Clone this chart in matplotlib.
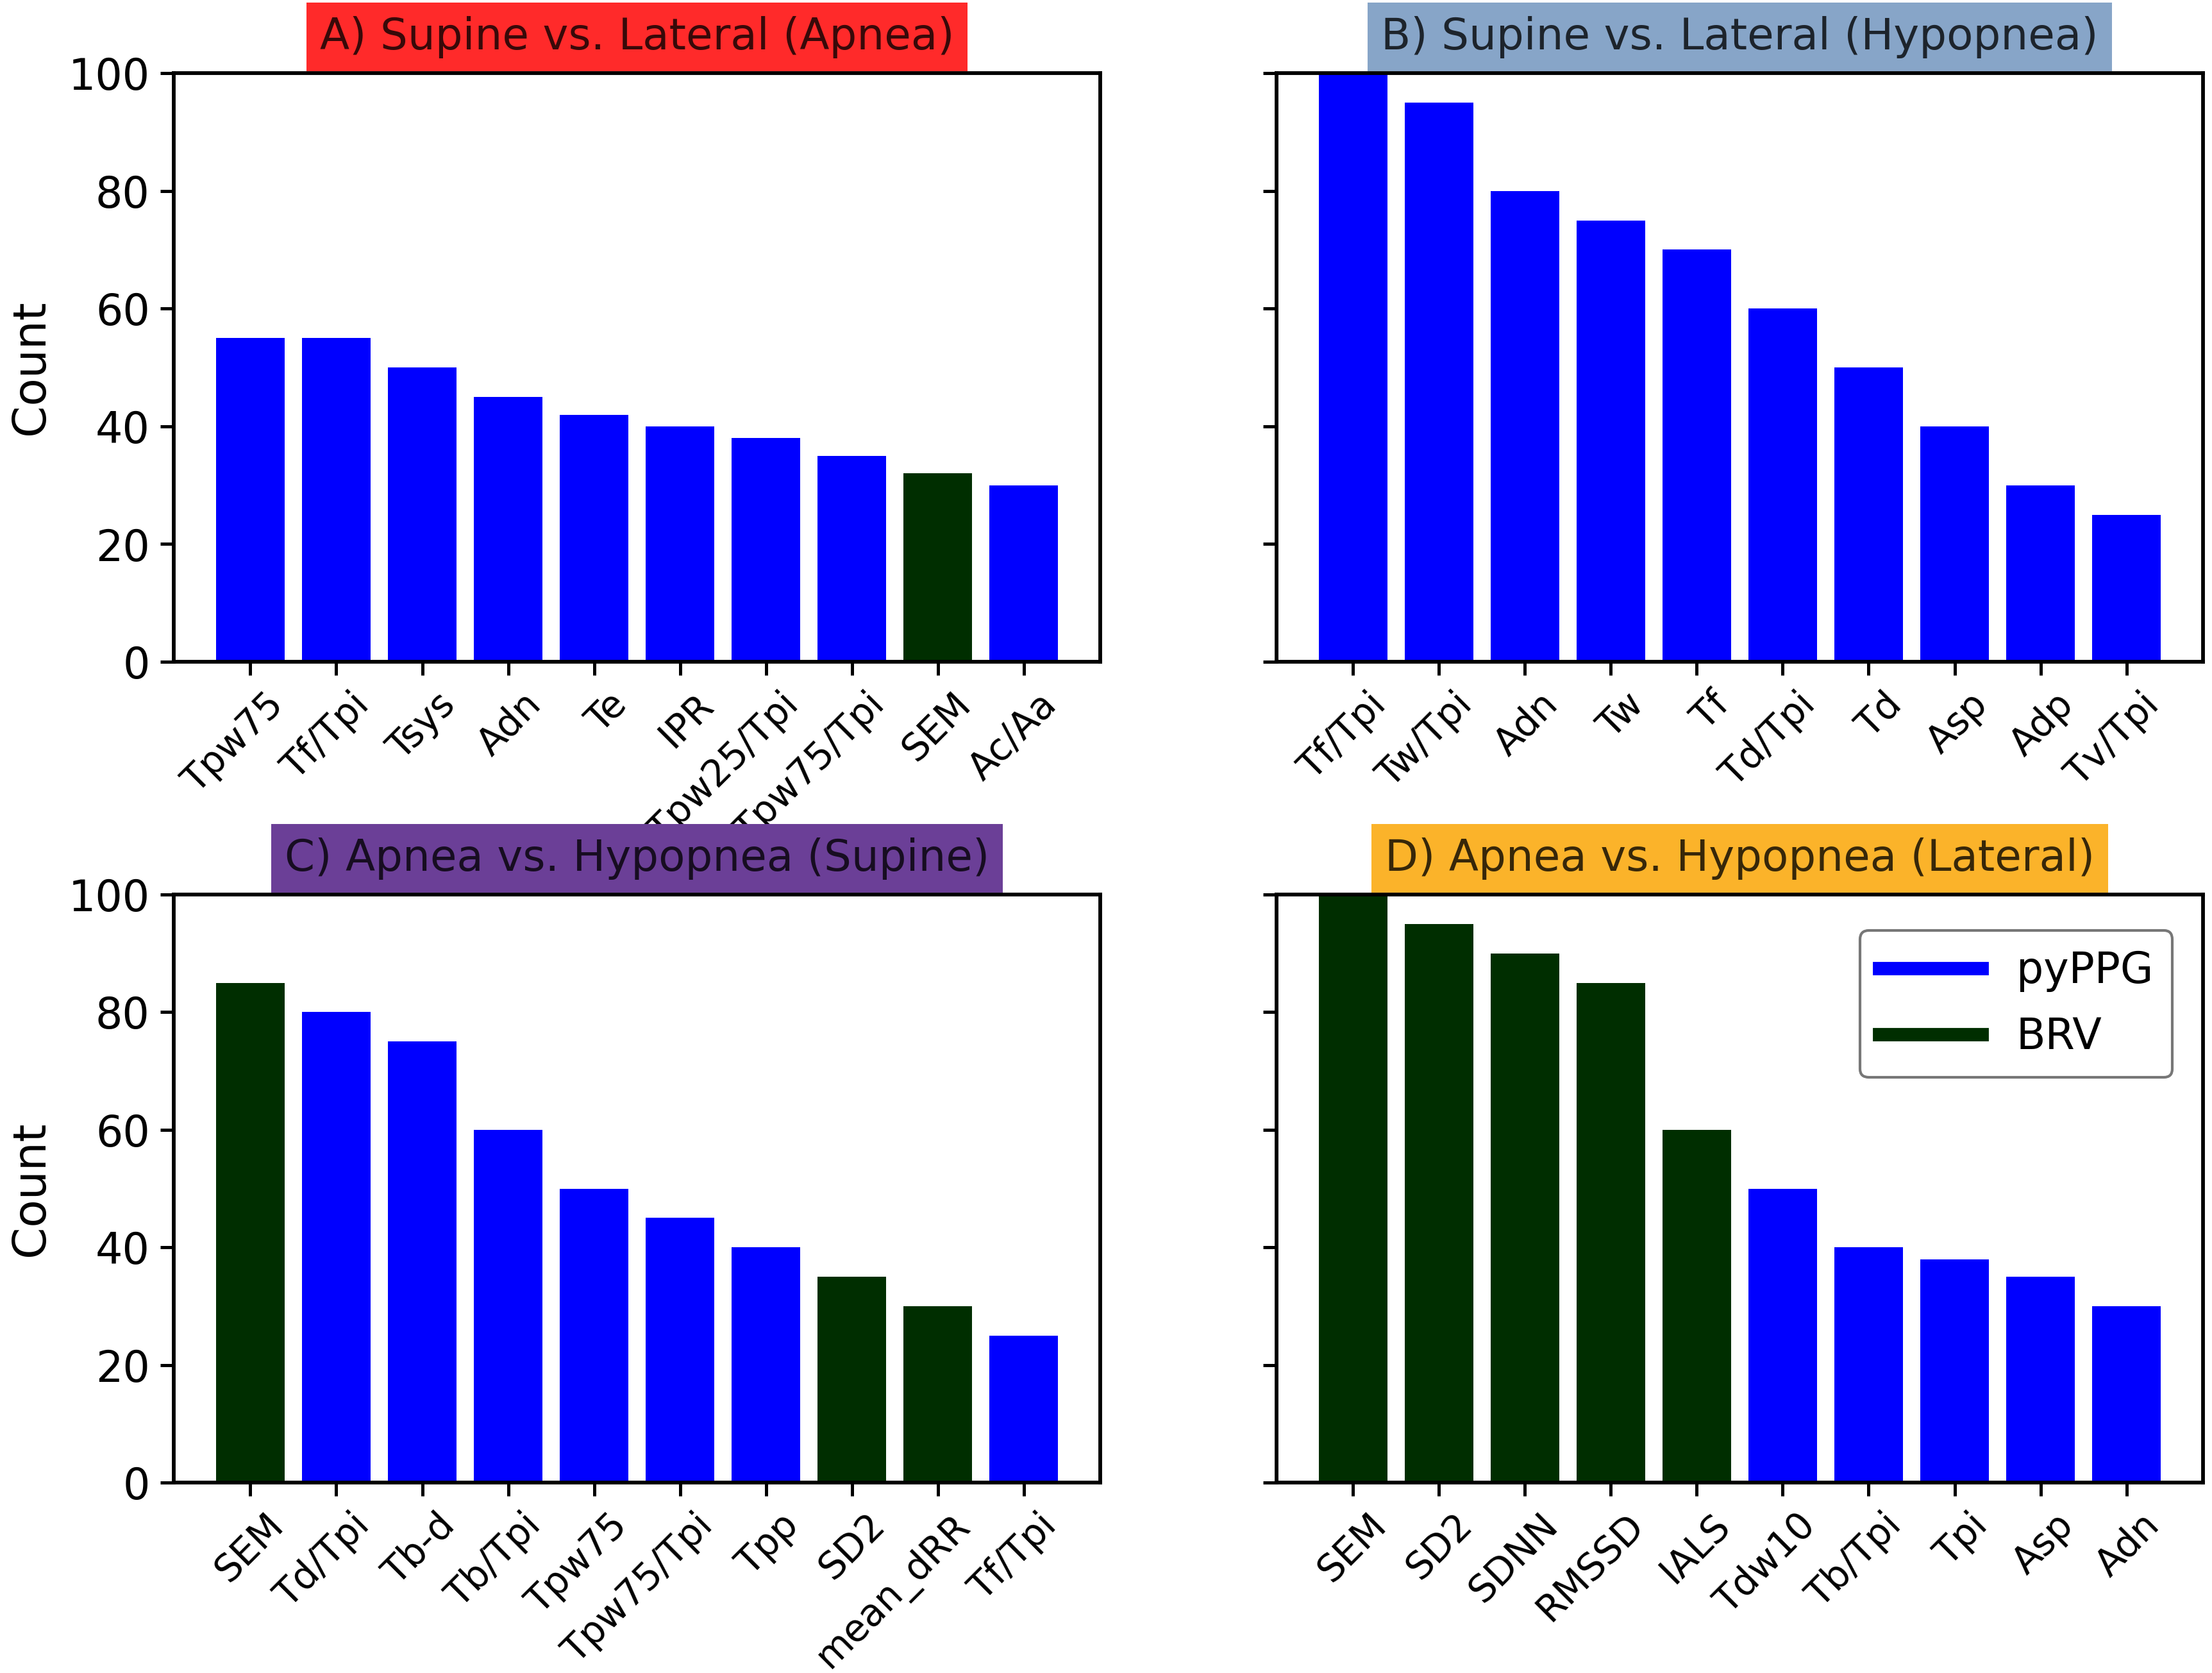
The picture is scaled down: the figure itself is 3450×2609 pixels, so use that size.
import matplotlib
matplotlib.use("Agg")
import matplotlib.pyplot as plt
import matplotlib.transforms as mtransforms
from matplotlib.lines import Line2D

BLUE = "#0000ff"
GREEN = "#002e00"

# panel A
a_labels = ["Tpw75", "Tf/Tpi", "Tsys", "Adn", "Te", "IPR", "Tpw25/Tpi", "Tpw75/Tpi", "SEM", "Ac/Aa"]
a_counts = [55, 55, 50, 45, 42, 40, 38, 35, 32, 30]
a_group = ["pyPPG"] * 8 + ["BRV", "pyPPG"]

# panel B
b_labels = ["Tf/Tpi", "Tw/Tpi", "Adn", "Tw", "Tf", "Td/Tpi", "Td", "Asp", "Adp", "Tv/Tpi"]
b_counts = [100, 95, 80, 75, 70, 60, 50, 40, 30, 25]
b_group = ["pyPPG"] * 10

# panel C
c_labels = ["SEM", "Td/Tpi", "Tb-d", "Tb/Tpi", "Tpw75", "Tpw75/Tpi", "Tpp", "SD2", "mean_dRR", "Tf/Tpi"]
c_counts = [85, 80, 75, 60, 50, 45, 40, 35, 30, 25]
c_group = ["BRV"] + ["pyPPG"] * 6 + ["BRV", "BRV", "pyPPG"]

# panel D
d_labels = ["SEM", "SD2", "SDNN", "RMSSD", "IALS", "Tdw10", "Tb/Tpi", "Tpi", "Asp", "Adn"]
d_counts = [100, 95, 90, 85, 60, 50, 40, 38, 35, 30]
d_group = ["BRV"] * 5 + ["pyPPG"] * 5

titles = [
    "A) Supine vs. Lateral (Apnea)",
    "B) Supine vs. Lateral (Hypopnea)",
    "C) Apnea vs. Hypopnea (Supine)",
    "D) Apnea vs. Hypopnea (Lateral)",
]
title_colors = ["#ff2a2a", "#87a5c8", "#6b3f97", "#fbb32a"]
group_colors = {"pyPPG": BLUE, "BRV": GREEN}

panels = [
    (a_labels, a_counts, a_group),
    (b_labels, b_counts, b_group),
    (c_labels, c_counts, c_group),
    (d_labels, d_counts, d_group),
]

plt.rcParams["font.family"] = "DejaVu Sans"
fig = plt.figure(figsize=(11.5, 8.6967), dpi=300)

boxes = [
    [0.0786, 0.6044, 0.4188, 0.3519],
    [0.5771, 0.6044, 0.4188, 0.3519],
    [0.0786, 0.1138, 0.4188, 0.3515],
    [0.5771, 0.1138, 0.4188, 0.3515],
]

# nudge rotated tick labels so their upper end sits a bit right of the tick
shift = mtransforms.ScaledTranslation(15 / 72, 0, fig.dpi_scale_trans)

for i, (labels, counts, group) in enumerate(panels):
    ax = fig.add_axes(boxes[i])
    x = list(range(len(labels)))
    ax.bar(x, counts, width=0.8, color=[group_colors[g] for g in group])
    ax.set_ylim(0, 100)
    ax.set_yticks([0, 20, 40, 60, 80, 100])
    ax.set_xticks(x)
    ax.tick_params(axis="both", length=5, width=1.2, pad=4)
    ax.tick_params(axis="y", labelsize=16)
    ax.set_xticklabels(labels, rotation=45, ha="right", fontsize=14)
    for lab in ax.get_xticklabels():
        lab.set_transform(lab.get_transform() + shift)
    for s in ax.spines.values():
        s.set_linewidth(1.4)
    if i % 2 == 0:
        ax.set_ylabel("Count", fontsize=17)
        ax.yaxis.set_label_coords(-0.13, 0.5)
    else:
        ax.set_yticklabels([])
    ax.set_title(
        titles[i],
        fontsize=16.2,
        color="black",
        alpha=0.78,
        pad=9,
        bbox=dict(facecolor=title_colors[i], edgecolor="none", pad=5),
    )

handles = [
    Line2D([0], [0], color=BLUE, lw=5),
    Line2D([0], [0], color=GREEN, lw=5),
]
fig.axes[3].legend(
    handles,
    ["pyPPG", "BRV"],
    loc="upper right",
    fontsize=16,
    handlelength=2.4,
    borderpad=0.45,
    labelspacing=0.55,
    edgecolor="#555555",
    bbox_to_anchor=(0.99, 0.975),
)

fig.savefig("out.png", dpi=300)
